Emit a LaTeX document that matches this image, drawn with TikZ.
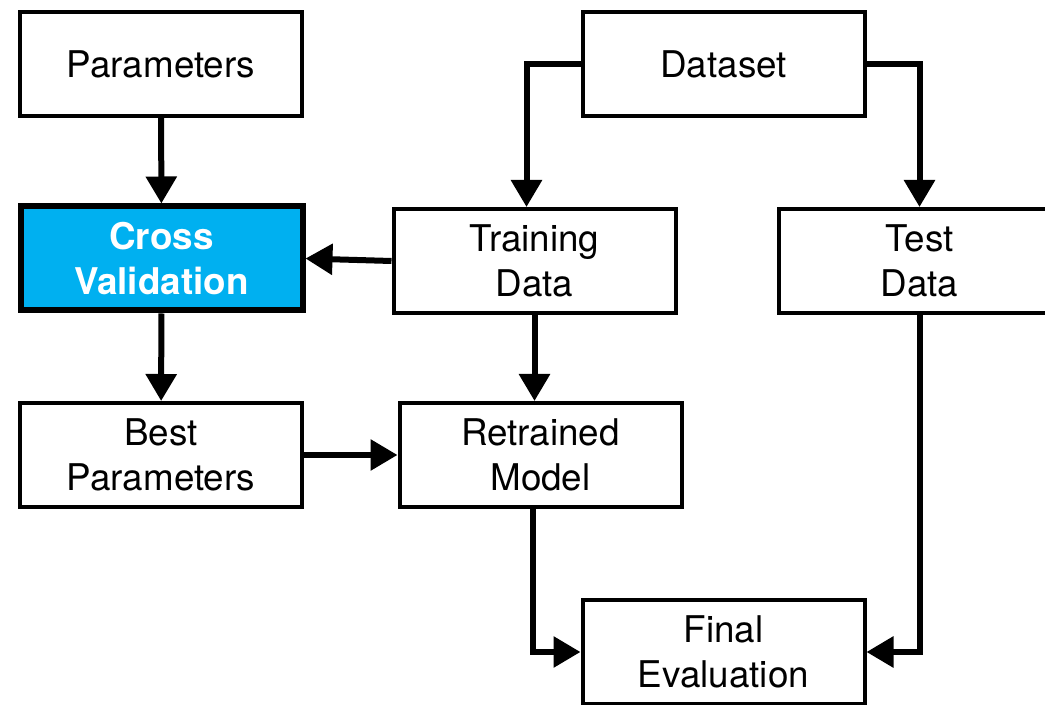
\documentclass[tikz,border=0pt]{standalone}
\usepackage{fontspec}
\setmainfont{TeX Gyre Heros}
\usetikzlibrary{arrows.meta}
\definecolor{cvblue}{HTML}{00B0F0}

\begin{document}
\begin{tikzpicture}[x=0.5pt, y=-0.5pt,
    stage/.style ={rectangle, draw, line width=2pt, inner sep=0pt,
      minimum width=141pt, minimum height=52pt, align=center,
      font=\fontsize{18.4}{22.5}\selectfont},
    highlight/.style ={stage, fill=cvblue, line width=3pt, text=white,
      font=\fontsize{18.4}{22.5}\selectfont\bfseries},
    flow/.style ={line width=3pt, -{Triangle[length=13.5pt, width=15pt]}}]
   \useasboundingbox (0,0) rectangle (1045,705);
   \clip (0,0) rectangle (1045,705);

   \node[stage] (P)  at (161,64)    {Parameters};
   \node[stage] (D)  at (723.5,64.5) {Dataset};
   \node[highlight] (CV) at (161.5,258.5) {Cross\\Validation};
   \node[stage] (TR) at (534.5,261) {Training\\Data};
   \node[stage] (TE) at (919.5,261) {Test\\Data};
   \node[stage] (BP) at (161,455)   {Best\\Parameters};
   \node[stage] (RM) at (540.5,455) {Retrained\\Model};
   \node[stage] (FE) at (723.5,652) {Final\\Evaluation};

   \draw[flow] (P) to (CV);
   \draw[flow] (D.west) -| ([xshift=-4pt]TR.north);
   \draw[flow] (D.east) -| (TE.north);
   \draw[flow] (TR.west) to (CV.east);
   \draw[flow] (CV) to (BP);
   \draw[flow] (TR.south) to (TR.south |- RM.north);
   \draw[flow] (BP.east) to (RM.west);
   \draw[flow] ([xshift=-4pt]RM.south) |- (FE.west);
   \draw[flow] (TE.south) |- (FE.east);
 \end{tikzpicture}
\end{document}
